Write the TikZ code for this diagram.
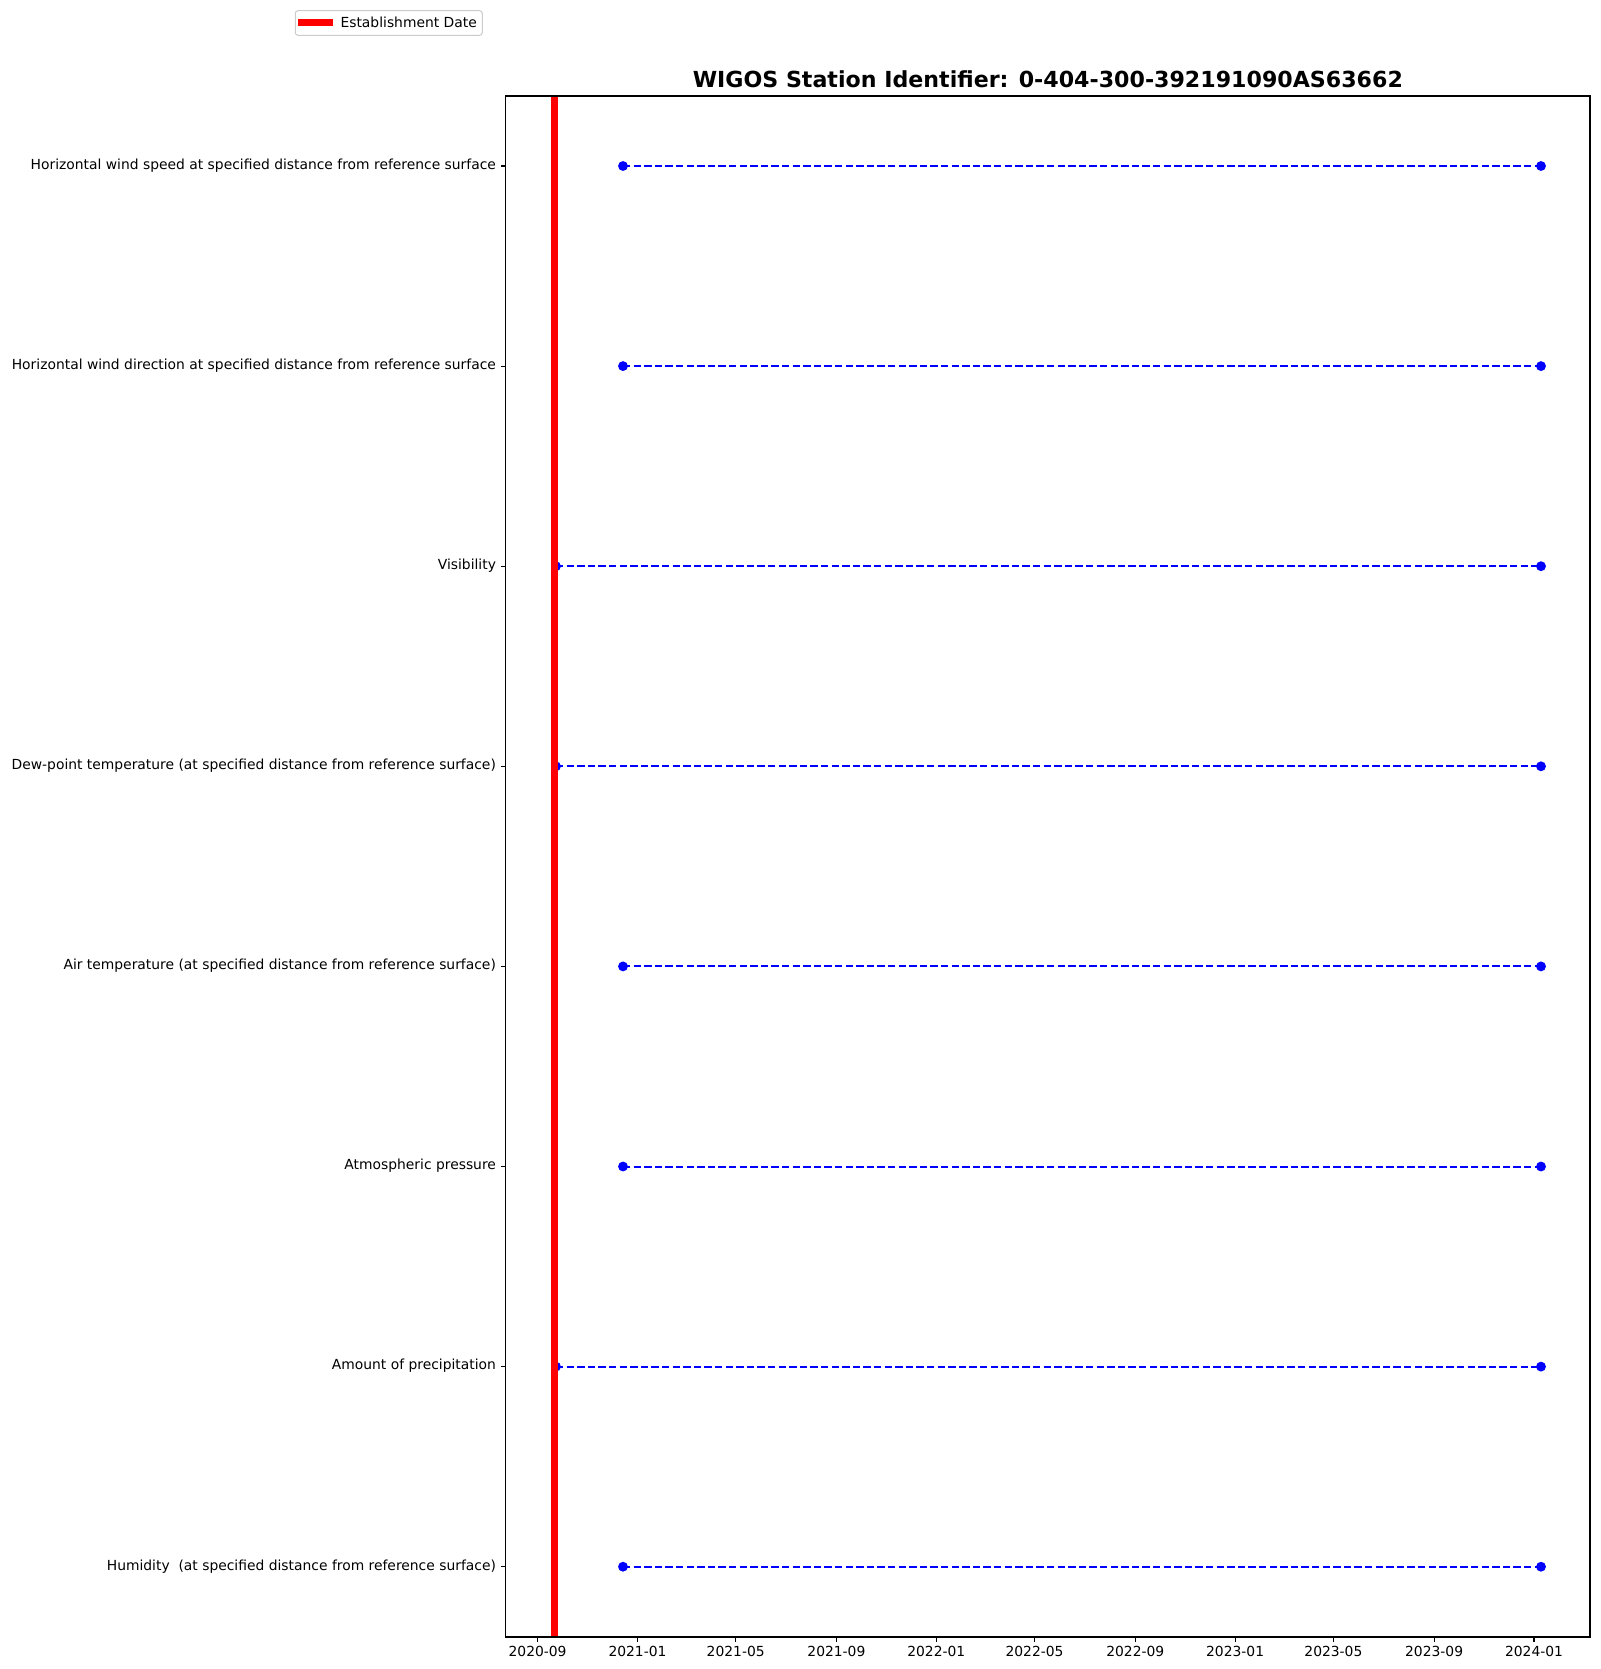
\documentclass[tikz,border=0pt]{standalone}
\usepackage{fontspec}
\setmainfont{DejaVu Sans}
\usetikzlibrary{calc}
\definecolor{mplblue}{RGB}{0,0,255}
\definecolor{mplred}{RGB}{255,0,0}
\tikzset{
  axisframe/.style={draw=black, line width=0.8pt},
  tickmark/.style={draw=black, line width=0.8pt},
  ticklab/.style={font=\fontsize{10.4}{12.5}\selectfont, inner sep=0pt},
  rowline/.style={draw=mplblue, line width=1.5pt, dash pattern=on 5.55pt off 2.4pt},
  rowdot/.style={circle, fill=mplblue, inner sep=0pt, minimum size=7.4pt},
  estline/.style={draw=mplred, line width=5pt},
  legendbox/.style={draw=black!20, fill=white, rounded corners=2pt, line width=0.8pt},
}
\begin{document}
\begin{tikzpicture}[x=0.75pt, y=-0.75pt]
\useasboundingbox (0,0) rectangle (1600,1669);
% axes frame
\coordinate (axTL) at (505.5,96);
\coordinate (axBR) at (1590,1637);
% title
\node[font=\fontsize{16.6}{20}\selectfont\bfseries, anchor=base, inner sep=0pt] (title) at (1047.8,87.5) {WIGOS Station Identifier: 0-404-300-392191090AS63662};
% x ticks
\foreach \xx/\lab [count=\i] in {537.6/2020-09, 637.5/2021-01, 735.7/2021-05, 836.4/2021-09, 936.3/2022-01, 1034.5/2022-05, 1135.3/2022-09, 1235.1/2023-01, 1333.4/2023-05, 1434.1/2023-09, 1534.0/2024-01}{
  \coordinate (xt\i) at (\xx,1637);
  \draw[tickmark] (xt\i) -- ++(0,4.67);
  \node[ticklab, anchor=north] (xl\i) at ($(xt\i)+(0,9.3)$) {\lab};
}
% y rows
\foreach \yy/\lab [count=\i] in {
  166.0/Horizontal wind speed at specified distance from reference surface,
  366.1/Horizontal wind direction at specified distance from reference surface,
  566.2/Visibility,
  766.3/Dew-point temperature (at specified distance from reference surface),
  966.4/Air temperature (at specified distance from reference surface),
  1166.5/Atmospheric pressure,
  1366.6/Amount of precipitation,
  1566.7/Humidity \ (at specified distance from reference surface)}{
  \coordinate (yt\i) at (505.5,\yy);
  \draw[tickmark] (yt\i) -- ++(-4.67,0);
  \node[ticklab, anchor=east] (yl\i) at ($(yt\i)+(-9.3,0)$) {\strut\lab};
}
% data lines
\foreach \i/\xs in {1/623, 2/623, 3/556, 4/556, 5/623, 6/623, 7/556, 8/623}{
  \path (yt\i) ++(\xs-505.5,0) coordinate (s\i);
  \path (yt\i) ++(1541-505.5,0) coordinate (e\i);
  \draw[rowline] (s\i) -- (e\i);
  \node[rowdot] (sd\i) at (s\i) {};
  \node[rowdot] (ed\i) at (e\i) {};
}
% establishment date
\coordinate (estT) at (554.7,96);
\coordinate (estB) at (554.7,1637);
\draw[estline] (estT) -- (estB);
\draw[axisframe] (axTL) rectangle (axBR);
% legend
\coordinate (legTL) at (295.3,10.7);
\coordinate (legBR) at (482.3,35.3);
\draw[legendbox] (legTL) rectangle (legBR);
\coordinate (legA) at (298.3,22.5);
\coordinate (legB) at (333,22.5);
\draw[estline] (legA) -- (legB);
\node[ticklab, anchor=base west] (legtxt) at (340.3,27.5) {Establishment Date};
\end{tikzpicture}
\end{document}
